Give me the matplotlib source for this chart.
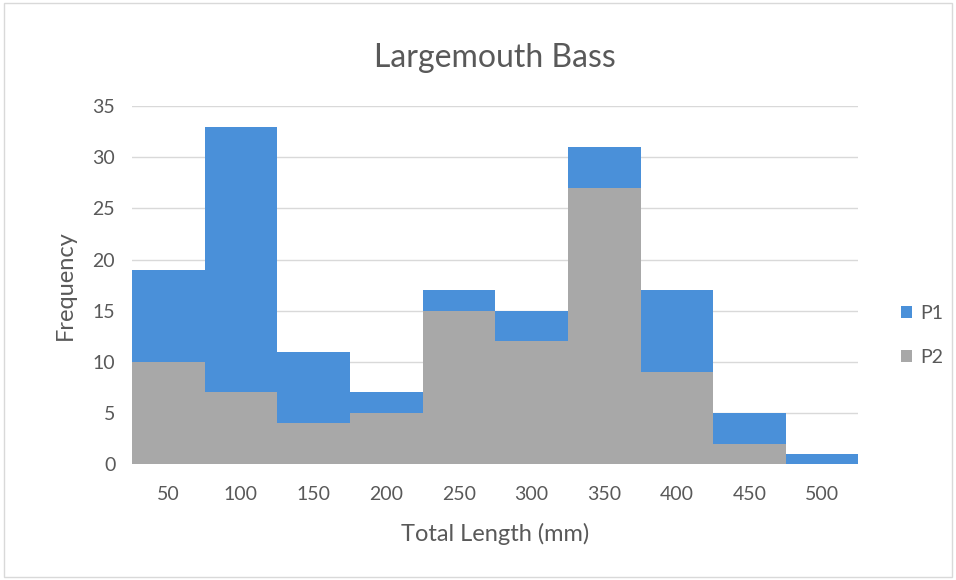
import matplotlib
matplotlib.use("Agg")
import matplotlib.pyplot as plt
from matplotlib.patches import Rectangle

plt.rcParams['font.family'] = ['Lato', 'DejaVu Sans']

lengths = [50, 100, 150, 200, 250, 300, 350, 400, 450, 500]
p1 = [19, 33, 11, 7, 17, 15, 31, 17, 5, 1]
p2 = [10, 7, 4, 5, 15, 12, 27, 9, 2, 0]

txt = '#595959'
fig = plt.figure(figsize=(9.56, 5.8), dpi=100)
fig.patches.append(Rectangle((0.004, 0.005), 0.992, 0.99, transform=fig.transFigure,
                             fill=False, edgecolor='#d9d9d9', lw=1))
ax = fig.add_axes([0.138, 0.2, 0.76, 0.617])

x = range(len(lengths))
ax.bar(x, p1, width=1.0, color='#4a90d9', label='P1', zorder=2)
ax.bar(x, p2, width=1.0, color='#a8a8a8', label='P2', zorder=3)

ax.set_xlim(-0.5, len(lengths) - 0.5)
ax.set_ylim(0, 35)
ax.set_yticks(range(0, 36, 5))
ax.set_xticks(list(x))
ax.set_xticklabels([str(v) for v in lengths])
ax.yaxis.grid(True, color='#d9d9d9', lw=1, zorder=0)
ax.set_axisbelow(True)
for s in ax.spines.values():
    s.set_visible(False)
ax.tick_params(length=0, colors=txt, labelsize=14)
ax.tick_params(axis='x', pad=16)
ax.tick_params(axis='y', pad=12)

ax.set_title('Largemouth Bass', fontsize=23, color=txt, pad=28)
ax.set_xlabel('Total Length (mm)', fontsize=17, color=txt, labelpad=14)
ax.set_ylabel('Frequency', fontsize=17, color=txt, labelpad=12)

leg = ax.legend(loc='center left', bbox_to_anchor=(1.035, 0.36), frameon=False,
                fontsize=14, handlelength=0.55, handleheight=0.55,
                labelspacing=1.4, handletextpad=0.4)
for t in leg.get_texts():
    t.set_color(txt)

fig.savefig('out.png', dpi=100)
